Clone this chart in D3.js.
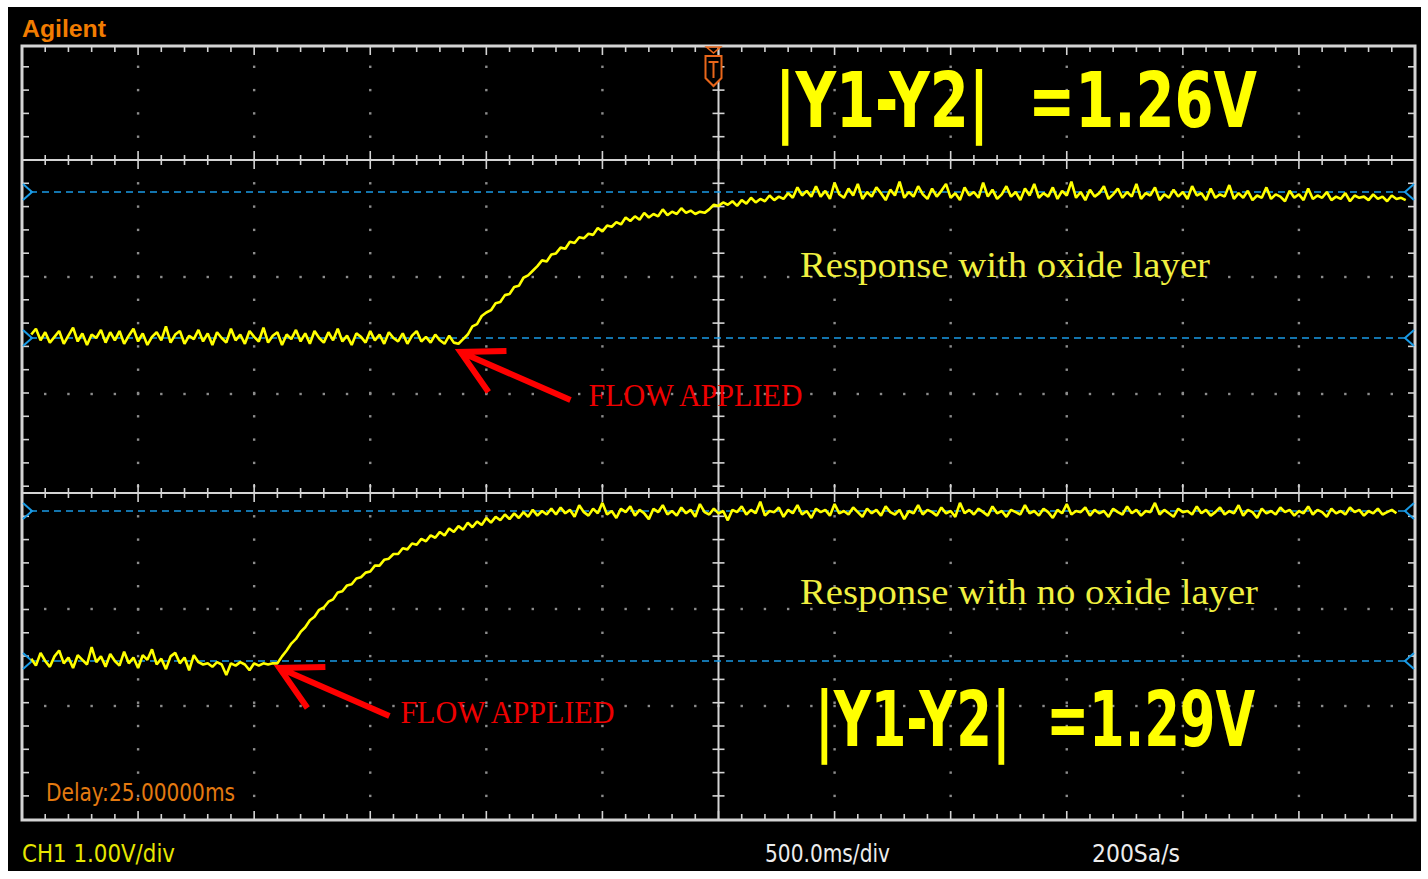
<!DOCTYPE html>
<html><head><meta charset="utf-8">
<script src="https://cdn.jsdelivr.net/npm/d3@7"></script>
<style>html,body{margin:0;padding:0;background:#fff;} svg{display:block}</style>
</head><body>
<svg id="c" width="1428" height="879"></svg>
<script>
// ---------------- DATA ----------------
// sample times: tStart + i * tStep (seconds, 500 ms/div, trigger at 0)
const tStart = -2.96, tStep = 0.02;
// top trace: response with oxide layer (volts above ground cursor)
const topTrace = [
 0.03,0.08,-0.02,0.05,-0.04,0.01,0.06,-0.05,0.02,0.09,-0.03,0.04,-0.06,0.03,0.00,0.07,-0.04,0.05,-0.02,0.06,
 -0.05,0.02,0.08,-0.03,0.04,-0.06,0.01,0.05,-0.02,0.10,-0.04,0.03,0.06,-0.05,0.02,-0.01,0.07,-0.03,0.04,-0.06,
 0.05,0.00,-0.04,0.08,-0.02,0.03,-0.05,0.06,0.01,-0.03,0.09,-0.04,0.02,0.05,-0.06,0.03,-0.01,0.07,-0.03,0.04,
 -0.05,0.06,0.00,-0.04,0.05,-0.02,0.08,-0.03,0.02,-0.06,0.04,0.01,-0.04,0.06,-0.02,0.03,-0.05,0.05,0.00,-0.03,
 0.04,-0.05,0.02,0.06,-0.03,0.01,-0.04,0.03,-0.02,-0.05,0.02,-0.04,
 -0.05,-0.01,0.03,0.10,0.12,0.19,0.22,0.24,0.30,0.31,0.37,0.38,0.44,0.45,0.52,0.54,0.58,0.62,0.67,0.66,
 0.72,0.73,0.78,0.77,0.83,0.82,0.87,0.86,0.90,0.89,0.95,0.92,0.97,0.96,1.00,0.98,1.04,1.01,1.05,1.02,
 1.08,1.04,1.07,1.05,1.11,1.06,1.09,1.07,1.12,1.08,1.10,1.07,1.09,1.08,1.11,1.15,1.14,1.17,1.15,1.18,
 1.14,1.19,1.16,1.21,1.17,1.20,1.18,1.23,1.19,1.22,1.20,1.25,1.21,1.30,1.23,1.27,1.22,
 1.31,1.22,1.27,1.20,1.34,1.24,1.21,1.29,1.23,1.33,1.20,1.26,1.22,1.30,1.25,1.19,1.28,1.23,1.35,1.21,
 1.26,1.22,1.31,1.24,1.20,1.29,1.22,1.27,1.33,1.21,1.25,1.19,1.30,1.23,1.26,1.21,1.34,1.22,1.28,1.20,
 1.24,1.31,1.22,1.26,1.19,1.29,1.23,1.33,1.21,1.25,1.22,1.30,1.20,1.27,1.23,1.35,1.21,1.26,1.19,1.28,
 1.22,1.25,1.31,1.20,1.24,1.29,1.21,1.26,1.22,1.33,1.20,1.25,1.23,1.30,1.19,1.24,1.21,1.28,1.22,1.26,
 1.20,1.31,1.23,1.25,1.19,1.29,1.21,1.24,1.22,1.32,1.20,1.25,1.21,1.27,1.19,1.23,1.21,1.30,1.20,1.24,
 1.22,1.18,1.27,1.21,1.24,1.19,1.29,1.20,1.23,1.21,1.26,1.19,1.22,1.20,1.25,1.18,1.23,1.21,1.22,1.19,
 1.24,1.20,1.22,1.18,1.23,1.20,1.21,1.19
];
// bottom trace: response with no oxide layer
const bottomTrace = [
 0.02,-0.04,0.07,0.00,-0.05,0.04,0.09,-0.02,0.03,-0.06,0.05,0.01,-0.03,0.12,-0.01,0.04,-0.05,0.06,0.00,-0.04,
 0.08,-0.02,0.03,-0.06,0.05,0.01,0.10,-0.03,0.02,-0.07,0.04,0.07,-0.02,0.03,-0.08,0.05,-0.01,
 -0.03,-0.02,-0.05,-0.01,-0.03,-0.12,-0.02,-0.04,-0.01,-0.03,-0.08,-0.02,-0.04,-0.02,-0.03,-0.02,
 -0.02,0.04,0.09,0.15,0.19,0.25,0.29,0.35,0.38,0.44,0.46,0.51,0.53,0.59,0.60,0.65,0.66,0.71,0.72,0.76,
 0.77,0.82,0.82,0.87,0.88,0.92,0.92,0.97,0.96,1.01,1.00,1.05,1.03,1.08,1.06,1.11,1.08,1.14,1.11,1.16,
 1.13,1.19,1.15,1.20,1.17,1.23,1.19,1.24,1.21,1.26,1.22,1.27,1.23,1.28,1.24,1.30,1.25,1.29,1.26,1.31,
 1.26,1.32,1.27,1.30,1.24,1.34,1.28,1.25,1.31,1.27,1.36,1.26,1.29,1.23,1.31,1.28,1.33,1.25,1.30,1.27,
 1.22,1.31,1.28,1.34,1.26,1.29,1.25,1.32,1.27,1.30,1.24,1.35,1.28,1.26,1.31,1.27,1.29,1.21,1.30,1.28,
 1.33,1.26,1.30,1.27,1.37,1.25,1.29,1.28,1.32,1.24,1.30,1.27,1.34,1.26,1.29,1.23,1.31,1.28,1.30,1.25,
 1.35,1.27,1.29,1.26,1.32,1.28,1.24,1.31,1.27,1.30,1.25,1.33,1.28,1.26,1.30,1.22,1.29,1.27,1.34,1.26,
 1.30,1.28,1.25,1.32,1.27,1.29,1.24,1.36,1.27,1.30,1.26,1.31,1.28,1.25,1.33,1.27,1.29,1.24,1.30,1.28,
 1.26,1.34,1.27,1.29,1.25,1.31,1.28,1.23,1.30,1.27,1.35,1.26,1.29,1.28,1.32,1.25,1.30,1.27,1.29,1.24,
 1.31,1.28,1.26,1.33,1.27,1.30,1.25,1.29,1.28,1.36,1.26,1.30,1.27,1.24,1.31,1.28,1.29,1.26,1.33,1.27,
 1.30,1.25,1.28,1.32,1.26,1.29,1.27,1.34,1.25,1.30,1.28,1.23,1.31,1.27,1.29,1.26,1.32,1.28,1.30,1.25,
 1.29,1.27,1.33,1.26,1.30,1.28,1.24,1.31,1.27,1.29,1.26,1.32,1.28,1.30,1.25,1.29,1.27,1.31,1.26,1.28,
 1.30,1.27
];
const topCursors = [0, 1.26];      // Y2, Y1 (V)
const bottomCursors = [0, 1.29];
const measureTexts = ["|Y1-Y2|  =1.26V", "|Y1-Y2|  =1.29V"];
const responseTexts = ["Response with oxide layer", "Response with no oxide layer"];
const flowTimes = [-1.12, -1.90];   // s, when flow was applied
const flowLabel = "FLOW APPLIED";
const timeDomain = [-3, 3];         // 12 div x 500 ms
const majorTimeTicks = [-3,-2.5,-2,-1.5,-1,-0.5,0,0.5,1,1.5,2,2.5,3];
const minorPerMajor = 5;
const statusTexts = {brand:"Agilent", delay:"Delay:25.00000ms", ch:"CH1 1.00V/div", tb:"500.0ms/div", sr:"200Sa/s"};

// ---------------- LAYOUT ----------------
const W = 1428, H = 879;
const F = {left:22, right:1415, top:46, bottom:820};
const svg = d3.select("#c");
svg.append("rect").attr("x",0).attr("y",0).attr("width",W).attr("height",H).attr("fill","#fff");
svg.append("rect").attr("x",8).attr("y",7).attr("width",1413).attr("height",864).attr("fill","#000");

const x = d3.scaleLinear().domain(timeDomain).range([F.left, F.right]);
const yTop = d3.scaleLinear().domain(topCursors).range([338, 192]);
const yBot = d3.scaleLinear().domain(bottomCursors).range([661, 511]);

const panels = [
  {solid:160, rows:[277,394], y0:F.top, y1:493},
  {solid:493, rows:[609,706], y0:493, y1:F.bottom}
];
const minorY = 23.3;
const gridCol = "#8c8c8c", axisCol = "#d4d4d4";

const minorTimes = [];
for (let i = 0; i < majorTimeTicks.length - 1; i++) {
  for (let k = 0; k < minorPerMajor; k++) minorTimes.push(majorTimeTicks[i] + k * (majorTimeTicks[i+1]-majorTimeTicks[i]) / minorPerMajor);
}
minorTimes.push(majorTimeTicks[majorTimeTicks.length-1]);
const isMajor = t => majorTimeTicks.some(m => Math.abs(m - t) < 1e-6);

panels.forEach(p => {
  p.minor = [];
  for (let y = p.solid; y <= p.y1 + 0.5; y += minorY) p.minor.push(y);
  for (let y = p.solid - minorY; y >= p.y0 - 0.5; y -= minorY) p.minor.push(y);
});
const allMinorY = panels.flatMap(p => p.minor.filter(y => y > F.top + 3 && y < F.bottom - 3));

const g = svg.append("g");
const vMaj = majorTimeTicks.filter(t => t !== 0 && t !== timeDomain[0] && t !== timeDomain[1]);
vMaj.forEach(t => {
  g.selectAll(null).data(allMinorY).enter().append("rect")
    .attr("x", x(t) - 1.2).attr("y", d => d - 1.2).attr("width", 2.4).attr("height", 2.4).attr("fill", gridCol);
});
panels.forEach(p => p.rows.forEach(ry => {
  g.selectAll(null).data(minorTimes.slice(1, -1)).enter().append("rect")
    .attr("x", d => x(d) - 1.2).attr("y", ry - 1.2).attr("width", 2.4).attr("height", 2.4).attr("fill", gridCol);
}));

panels.forEach(p => {
  g.append("line").attr("x1", F.left).attr("x2", F.right).attr("y1", p.solid).attr("y2", p.solid)
    .attr("stroke", axisCol).attr("stroke-width", 2);
  g.selectAll(null).data(minorTimes).enter().append("line")
    .attr("x1", d => x(d)).attr("x2", d => x(d))
    .attr("y1", d => p.solid - (isMajor(d) ? 9 : 5)).attr("y2", d => p.solid + (isMajor(d) ? 9 : 5))
    .attr("stroke", axisCol).attr("stroke-width", 1.6);
});
g.append("line").attr("x1", x(0)).attr("x2", x(0)).attr("y1", F.top).attr("y2", F.bottom)
  .attr("stroke", axisCol).attr("stroke-width", 2);
g.selectAll(null).data(allMinorY).enter().append("line")
  .attr("x1", x(0) - 6).attr("x2", x(0) + 6).attr("y1", d => d).attr("y2", d => d)
  .attr("stroke", axisCol).attr("stroke-width", 1.6);

g.selectAll(null).data(minorTimes).enter().append("line")
  .attr("x1", d => x(d)).attr("x2", d => x(d)).attr("y1", F.top).attr("y2", d => F.top + (isMajor(d) ? 9 : 6))
  .attr("stroke", axisCol).attr("stroke-width", 1.6);
g.selectAll(null).data(minorTimes).enter().append("line")
  .attr("x1", d => x(d)).attr("x2", d => x(d)).attr("y1", F.bottom).attr("y2", d => F.bottom - (isMajor(d) ? 9 : 6))
  .attr("stroke", axisCol).attr("stroke-width", 1.6);
[F.left, F.right].forEach((fx, i) => {
  const dir = i === 0 ? 1 : -1;
  g.selectAll(null).data(allMinorY).enter().append("line")
    .attr("x1", fx).attr("x2", fx + dir * 7).attr("y1", d => d).attr("y2", d => d)
    .attr("stroke", axisCol).attr("stroke-width", 1.6);
});
g.append("rect").attr("x", F.left).attr("y", F.top).attr("width", F.right - F.left).attr("height", F.bottom - F.top)
  .attr("fill", "none").attr("stroke", axisCol).attr("stroke-width", 3);

// cursors
const cursorCol = "#1a9be6";
[[yTop, topCursors], [yBot, bottomCursors]].forEach(([ys, cs]) => {
  cs.forEach(v => {
    const yy = ys(v);
    g.append("line").attr("x1", F.left + 8).attr("x2", F.right - 8).attr("y1", yy).attr("y2", yy)
      .attr("stroke", cursorCol).attr("stroke-width", 1.6).attr("stroke-dasharray", "7,5");
    g.append("path").attr("d", `M${F.left+1},${yy-8} L${F.left+10},${yy} L${F.left+1},${yy+8}`)
      .attr("fill", "none").attr("stroke", cursorCol).attr("stroke-width", 2);
    g.append("path").attr("d", `M${F.right-1},${yy-8} L${F.right-10},${yy} L${F.right-1},${yy+8}`)
      .attr("fill", "none").attr("stroke", cursorCol).attr("stroke-width", 2);
  });
});

// traces
const traceCol = "#ffff00";
[[topTrace, yTop], [bottomTrace, yBot]].forEach(([data, ys]) => {
  const line = d3.line().x((d, i) => x(tStart + i * tStep)).y(d => ys(d)).curve(d3.curveLinear);
  g.append("path").datum(data).attr("d", line).attr("fill", "none")
    .attr("stroke", traceCol).attr("stroke-width", 2.6).attr("stroke-linejoin", "bevel");
});

// trigger marker
const tx = x(0) - 5;
g.append("path").attr("d", `M${tx-7},${F.top+1} L${tx+7},${F.top+1} L${tx},${F.top+7} Z`)
  .attr("fill", "none").attr("stroke", "#e8661a").attr("stroke-width", 1.6);
g.append("path").attr("d", `M${tx-8},${F.top+10} L${tx+8},${F.top+10} L${tx+8},${F.top+32} L${tx},${F.top+40} L${tx-8},${F.top+32} Z`)
  .attr("fill", "#000").attr("stroke", "#e8661a").attr("stroke-width", 2);
g.append("path").attr("d", `M${tx-5},${F.top+16} L${tx+5},${F.top+16} M${tx},${F.top+16} L${tx},${F.top+32}`)
  .attr("fill", "none").attr("stroke", "#e8661a").attr("stroke-width", 2);

// flow arrows + labels
const arrowCfg = [{ys: yTop, tipDy: 14, lx: 128, ly: 54}, {ys: yBot, tipDy: 7, lx: 121, ly: 55}];
flowTimes.forEach((t, i) => {
  const c = arrowCfg[i];
  const px = x(t) + 2, py = c.ys(0) + c.tipDy;
  g.append("path").attr("d", `M${px+110},${py+48} L${px},${py} M${px+46},${py-1} L${px},${py} L${px+28},${py+40}`)
    .attr("fill", "none").attr("stroke", "#ff0000").attr("stroke-width", 6).attr("stroke-linejoin", "miter");
  g.append("text").attr("x", px + c.lx).attr("y", py + c.ly).text(flowLabel)
    .attr("font-family", "Liberation Serif, Times New Roman, serif").attr("font-size", 31)
    .attr("fill", "#ee0000").attr("textLength", 214).attr("lengthAdjust", "spacingAndGlyphs");
});

// response labels
const respPos = [[800, 277, 410], [800, 604, 458]];
responseTexts.forEach((s, i) => {
  g.append("text").attr("x", respPos[i][0]).attr("y", respPos[i][1]).text(s)
    .attr("font-family", "Liberation Serif, Times New Roman, serif").attr("font-size", 36)
    .attr("fill", "#f0f040").attr("textLength", respPos[i][2]).attr("lengthAdjust", "spacingAndGlyphs");
});

// measurement readouts
const measPos = [[775, 127, 482], [815, 746, 440]];
measureTexts.forEach((s, i) => {
  g.append("text").attr("x", measPos[i][0]).attr("y", measPos[i][1]).text(s)
    .style("white-space", "pre")
    .attr("font-family", "Liberation Sans Narrow, DejaVu Sans Condensed, Arial Narrow, sans-serif").attr("font-weight", "bold")
    .attr("font-size", 76).attr("fill", "#ffff00")
    .attr("textLength", measPos[i][2]).attr("lengthAdjust", "spacingAndGlyphs");
});

// status texts
const narrow = "Liberation Sans Narrow, DejaVu Sans Condensed, Arial Narrow, sans-serif";
svg.append("text").attr("x", 22).attr("y", 37).text(statusTexts.brand)
  .attr("font-family", "Liberation Sans, Arial, sans-serif").attr("font-weight", "bold").attr("font-size", 23)
  .attr("fill", "#f27c00").attr("textLength", 84).attr("lengthAdjust", "spacingAndGlyphs");
svg.append("text").attr("x", 46).attr("y", 801).text(statusTexts.delay)
  .attr("font-family", narrow).attr("font-size", 24).attr("fill", "#e47a10")
  .attr("textLength", 189).attr("lengthAdjust", "spacingAndGlyphs");
svg.append("text").attr("x", 22).attr("y", 862).text(statusTexts.ch)
  .attr("font-family", narrow).attr("font-size", 24).attr("fill", "#e6e600")
  .attr("textLength", 153).attr("lengthAdjust", "spacingAndGlyphs");
svg.append("text").attr("x", 765).attr("y", 862).text(statusTexts.tb)
  .attr("font-family", narrow).attr("font-size", 24).attr("fill", "#ececec")
  .attr("textLength", 125).attr("lengthAdjust", "spacingAndGlyphs");
svg.append("text").attr("x", 1092).attr("y", 862).text(statusTexts.sr)
  .attr("font-family", narrow).attr("font-size", 24).attr("fill", "#ececec")
  .attr("textLength", 88).attr("lengthAdjust", "spacingAndGlyphs");
</script>
</body></html>
